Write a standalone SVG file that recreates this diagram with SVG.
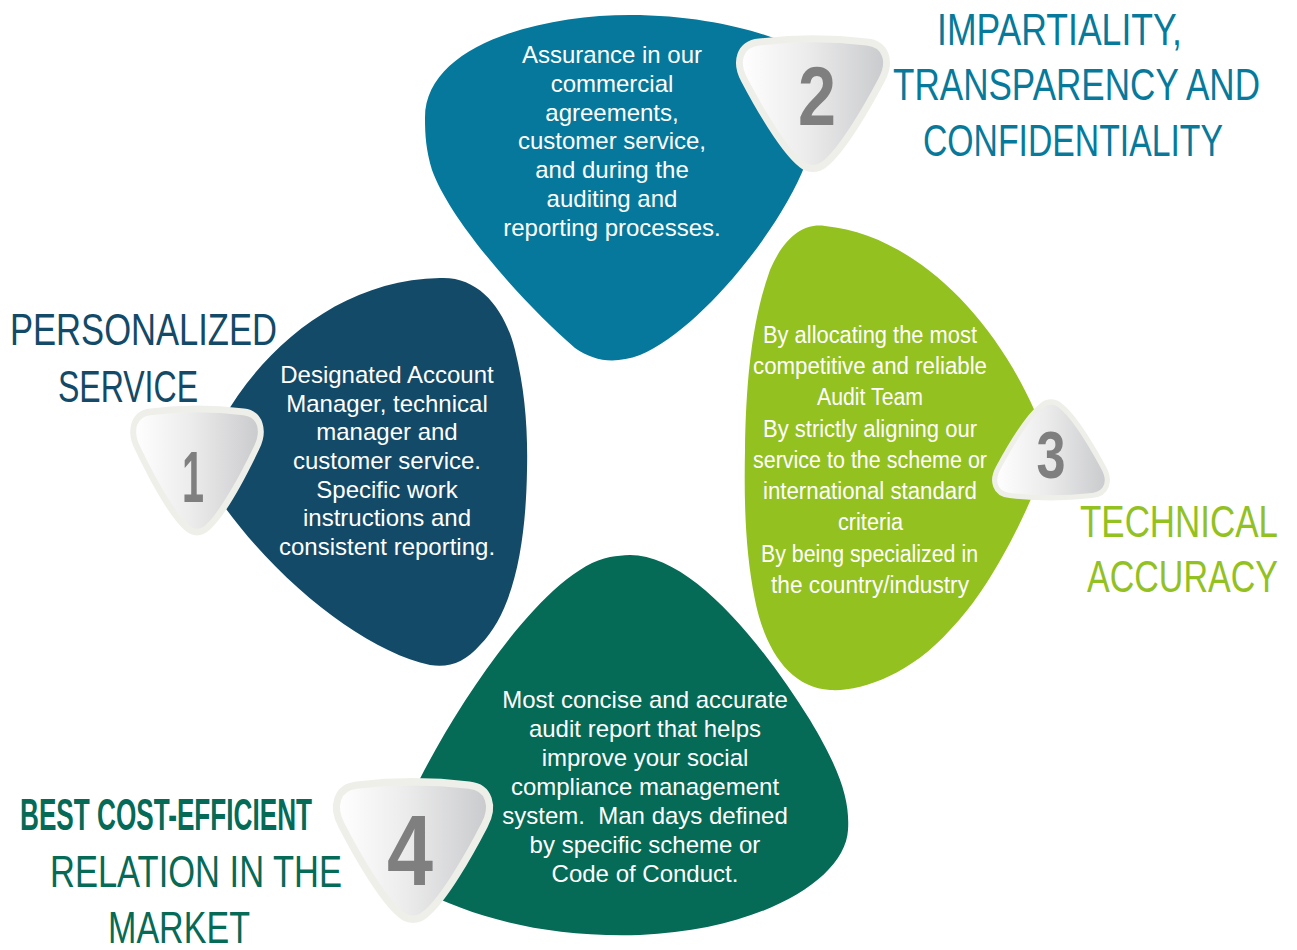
<svg xmlns="http://www.w3.org/2000/svg" width="1297" height="950" viewBox="0 0 1297 950">
<defs>
<linearGradient id="badgeGrad" x1="0" y1="0" x2="1" y2="0">
<stop offset="0" stop-color="#FFFFFF"/>
<stop offset="0.45" stop-color="#ECECEC"/>
<stop offset="1" stop-color="#C9CACD"/>
</linearGradient>
<path id="badge" d="M -55,2 C -20,-2 20,-2 55,2 C 75,4 80,22 70,40 C 55,68 30,110 12,124 C 5,130 -5,130 -12,124 C -30,110 -55,68 -70,40 C -80,22 -75,4 -55,2 Z"/>
</defs>
<style>
.badge{fill:url(#badgeGrad);stroke:#EFEFEA;stroke-width:7}
.num{font-family:"Liberation Sans",Arial,sans-serif;font-weight:bold;fill:#7F7F7F;text-anchor:middle}
.body{font-family:"Liberation Sans",Arial,sans-serif;font-size:24px;fill:#FFFFFF;text-anchor:middle}
.body3{font-family:"Liberation Sans Narrow","Liberation Sans",Arial,sans-serif;font-size:23px;fill:#FFFFFF}
.title{font-family:"Liberation Sans",Arial,sans-serif;font-size:45px}
</style>
<rect width="1297" height="950" fill="#FFFFFF"/>

<g id="node2">
<path fill="#06789B" d="M 425,118 C 425,45 540,15 630,15 C 710,15 775,35 800,50 C 825,70 830,110 805,165 C 780,230 700,330 640,355 C 615,364 595,362 575,348 C 520,300 450,220 432,170 C 426,150 425,135 425,118 Z"/>
<text class="body"><tspan x="612" y="63">Assurance in our</tspan><tspan x="612" y="92">commercial</tspan><tspan x="612" y="121">agreements,</tspan><tspan x="612" y="149">customer service,</tspan><tspan x="612" y="178">and during the</tspan><tspan x="612" y="207">auditing and</tspan><tspan x="612" y="236">reporting processes.</tspan></text>
<use href="#badge" class="badge" transform="translate(813,40) scale(0.98,1.0)"/>
<text class="num" x="817" y="125" font-size="84" textLength="38" lengthAdjust="spacingAndGlyphs">2</text>
<g class="title" fill="#077A9B">
<text x="937" y="45" textLength="245" lengthAdjust="spacingAndGlyphs">IMPARTIALITY,</text>
<text x="893" y="100" textLength="367" lengthAdjust="spacingAndGlyphs">TRANSPARENCY AND</text>
<text x="923" y="156" textLength="300" lengthAdjust="spacingAndGlyphs">CONFIDENTIALITY</text>
</g>
</g>

<g id="node1">
<path fill="#134A67" d="M 200,470 C 230,380 320,280 440,278 C 480,276 505,310 515,350 C 525,390 528,430 527,470 C 526,540 515,610 480,645 C 465,662 450,668 430,665 C 360,650 260,570 200,470 Z"/>
<text class="body"><tspan x="387" y="383">Designated Account</tspan><tspan x="387" y="412">Manager, technical</tspan><tspan x="387" y="440">manager and</tspan><tspan x="387" y="469">customer service.</tspan><tspan x="387" y="498">Specific work</tspan><tspan x="387" y="526">instructions and</tspan><tspan x="387" y="555">consistent reporting.</tspan></text>
<use href="#badge" class="badge" transform="translate(197,410) scale(0.85,0.95)"/>
<text class="num" x="193" y="502" font-size="73" textLength="22" lengthAdjust="spacingAndGlyphs">1</text>
<g class="title" fill="#134A67">
<text x="10" y="345" textLength="267" lengthAdjust="spacingAndGlyphs">PERSONALIZED</text>
<text x="58" y="402" textLength="140" lengthAdjust="spacingAndGlyphs">SERVICE</text>
</g>
</g>

<g id="node3">
<path fill="#93C11F" d="M 1050,450 C 1030,510 990,590 950,630 C 910,675 860,692 830,690 C 790,688 765,650 755,600 C 745,550 744,500 745,450 C 746,380 752,320 770,270 C 785,235 805,223 825,226 C 920,235 1010,330 1050,450 Z"/>
<g class="body3">
<text x="763" y="343" textLength="214" lengthAdjust="spacingAndGlyphs">By allocating the most</text>
<text x="753" y="374" textLength="234" lengthAdjust="spacingAndGlyphs">competitive and reliable</text>
<text x="817" y="405" textLength="106" lengthAdjust="spacingAndGlyphs">Audit Team</text>
<text x="763" y="437" textLength="214" lengthAdjust="spacingAndGlyphs">By strictly aligning our</text>
<text x="753" y="468" textLength="234" lengthAdjust="spacingAndGlyphs">service to the scheme or</text>
<text x="763" y="499" textLength="214" lengthAdjust="spacingAndGlyphs">international standard</text>
<text x="838" y="530" textLength="65" lengthAdjust="spacingAndGlyphs">criteria</text>
<text x="761" y="562" textLength="217" lengthAdjust="spacingAndGlyphs">By being specialized in</text>
<text x="771" y="593" textLength="198" lengthAdjust="spacingAndGlyphs">the country/industry</text>
</g>
<use href="#badge" class="badge" transform="translate(1051,497) scale(0.75,-0.74)"/>
<text class="num" x="1051" y="478" font-size="67" textLength="29" lengthAdjust="spacingAndGlyphs">3</text>
<g class="title" fill="#93C11F">
<text x="1080" y="537" textLength="198" lengthAdjust="spacingAndGlyphs">TECHNICAL</text>
<text x="1087" y="592" textLength="191" lengthAdjust="spacingAndGlyphs">ACCURACY</text>
</g>
</g>

<g id="node4">
<path fill="#056A56" d="M 630,555 C 690,555 760,640 810,720 C 840,770 850,800 848,830 C 845,880 760,930 640,935 C 540,938 470,915 420,890 C 395,875 390,845 405,810 C 440,730 540,570 610,557 C 617,556 623,555 630,555 Z"/>
<text class="body" xml:space="preserve"><tspan x="645" y="708">Most concise and accurate</tspan><tspan x="645" y="737">audit report that helps</tspan><tspan x="645" y="766">improve your social</tspan><tspan x="645" y="795">compliance management</tspan><tspan x="645" y="824">system.  Man days defined</tspan><tspan x="645" y="853">by specific scheme or</tspan><tspan x="645" y="882">Code of Conduct.</tspan></text>
<use href="#badge" class="badge" transform="translate(413,783) scale(1.02,1.06)"/>
<text class="num" x="410" y="885" font-size="100" textLength="46" lengthAdjust="spacingAndGlyphs">4</text>
<g class="title" fill="#056A56">
<text x="20" y="830" font-weight="bold" textLength="292" lengthAdjust="spacingAndGlyphs">BEST COST-EFFICIENT</text>
<text x="50" y="887" textLength="292" lengthAdjust="spacingAndGlyphs">RELATION IN THE</text>
<text x="108" y="943" textLength="142" lengthAdjust="spacingAndGlyphs">MARKET</text>
</g>
</g>

<g id="connectors"/>
</svg>
